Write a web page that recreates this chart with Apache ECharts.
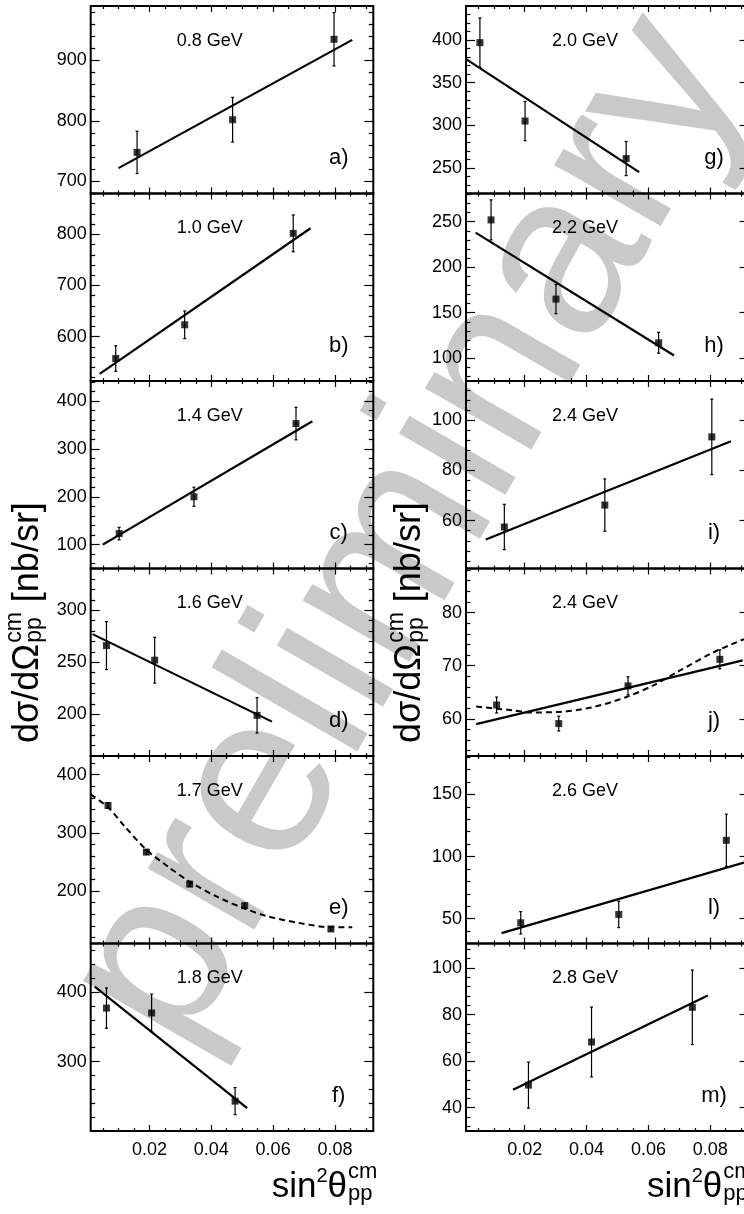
<!DOCTYPE html>
<html>
<head>
<meta charset="utf-8">
<script src="https://cdn.jsdelivr.net/npm/echarts@6/dist/echarts.min.js"></script>
<style>
html, body { margin: 0; padding: 0; background: #fff; }
#main { width: 744px; height: 1214px; }
</style>
</head>
<body>
<div id="main"></div>
<script>
// x axis (sin^2 theta) ticks, shared by all panels
const xMajor = [0.02, 0.04, 0.06, 0.08]

// a) 0.8 GeV  -- points are [x, y, error]
const ptsA = [[0.0160, 748, 35], [0.0469, 802, 37], [0.0797, 935, 44]]
const fitA = [[0.0100, 722], [0.0856, 934]]
const yTicksA = [700, 800, 900]
// b) 1.0 GeV
const ptsB = [[0.0091, 557, 25], [0.0314, 623, 27], [0.0665, 802, 36]]
const fitB = [[0.0039, 527], [0.0721, 812]]
const yTicksB = [600, 700, 800]
// c) 1.4 GeV
const ptsC = [[0.0102, 123, 13], [0.0344, 200, 20], [0.0674, 353, 34]]
const fitC = [[0.0049, 100], [0.0727, 358]]
const yTicksC = [100, 200, 300, 400]
// d) 1.6 GeV
const ptsD = [[0.0061, 266, 23], [0.0217, 252, 22], [0.0548, 199, 17]]
const fitD = [[0.0016, 277], [0.0596, 193]]
const yTicksD = [200, 250, 300]
// e) 1.7 GeV (dashed fit curve)
const ptsE = [[0.0066, 347, 5], [0.0190, 267, 4], [0.0330, 212, 4], [0.0508, 175, 4], [0.0787, 135, 3]]
const curveE = [[0.001, 366], [0.0066, 344], [0.012, 311], [0.019, 271], [0.026, 242], [0.033, 216],
  [0.042, 190], [0.0508, 170], [0.058, 157], [0.0687, 145], [0.0787, 138], [0.0856, 138]]
const yTicksE = [200, 300, 400]
// f) 1.8 GeV
const ptsF = [[0.0061, 377, 29], [0.0207, 370, 27], [0.0477, 243, 19.5]]
const fitF = [[0.0023, 408], [0.0516, 233]]
const yTicksF = [300, 400]
// g) 2.0 GeV
const ptsG = [[0.0055, 397, 29], [0.0201, 305, 23], [0.0528, 261, 20]]
const fitG = [[0.0009, 378], [0.0570, 245]]
const yTicksG = [250, 300, 350, 400]
// h) 2.2 GeV
const ptsH = [[0.0091, 252, 22], [0.0301, 165, 16], [0.0633, 117, 11.5]]
const fitH = [[0.0041, 238], [0.0683, 103]]
const yTicksH = [100, 150, 200, 250]
// i) 2.4 GeV
const ptsI = [[0.0134, 57.5, 9], [0.0459, 66.2, 10.4], [0.0805, 93.3, 15]]
const fitI = [[0.0074, 52.5], [0.0867, 91.6]]
const yTicksI = [60, 80, 100]
// j) 2.4 GeV (solid + dashed fit)
const ptsJ = [[0.0109, 62.6, 1.5], [0.0310, 59.1, 1.4], [0.0534, 66.2, 1.7], [0.0831, 71.2, 1.8]]
const fitJ = [[0.0043, 59.0], [0.0905, 71.0]]
const curveJ = [[0.0043, 62.3], [0.0162, 61.6], [0.0216, 61.2], [0.0313, 61.3], [0.0421, 62.2],
  [0.0529, 64.1], [0.0616, 66.3], [0.0702, 69.1], [0.0810, 72.5], [0.0909, 75.0]]
const yTicksJ = [60, 70, 80]
// l) 2.6 GeV
const ptsL = [[0.0187, 46.7, 9], [0.0504, 53.4, 10.6], [0.0852, 113.1, 21]]
const fitL = [[0.0125, 38.4], [0.0909, 95.1]]
const yTicksL = [50, 100, 150]
// m) 2.8 GeV
const ptsM = [[0.0212, 49.7, 9.9], [0.0416, 68.2, 15], [0.0742, 83.1, 16]]
const fitM = [[0.0162, 47.7], [0.0792, 88.2]]
const yTicksM = [40, 60, 80, 100]

const FONT = '"Liberation Sans", Arial, Helvetica, sans-serif'
const X_MIN = 0.001
const X_MAX = 0.0924

// panel setup (left column a-f, right column g-m)
const panels = [
  { label: '0.8 GeV', tag: 'a)', pts: ptsA, fit: fitA, ticks: yTicksA, min: 680, max: 990, minor: 20 },
  { label: '1.0 GeV', tag: 'b)', pts: ptsB, fit: fitB, ticks: yTicksB, min: 513, max: 880, minor: 20 },
  { label: '1.4 GeV', tag: 'c)', pts: ptsC, fit: fitC, ticks: yTicksC, min: 50, max: 442, minor: 20 },
  { label: '1.6 GeV', tag: 'd)', pts: ptsD, fit: fitD, ticks: yTicksD, min: 160, max: 340, minor: 10 },
  { label: '1.7 GeV', tag: 'e)', pts: ptsE, dash: curveE, ticks: yTicksE, min: 110, max: 432, minor: 20 },
  { label: '1.8 GeV', tag: 'f)', pts: ptsF, fit: fitF, ticks: yTicksF, min: 200, max: 470, minor: 20 },
  { label: '2.0 GeV', tag: 'g)', pts: ptsG, fit: fitG, ticks: yTicksG, min: 220, max: 440, minor: 10 },
  { label: '2.2 GeV', tag: 'h)', pts: ptsH, fit: fitH, ticks: yTicksH, min: 75, max: 281, minor: 10 },
  { label: '2.4 GeV', tag: 'i)', pts: ptsI, fit: fitI, ticks: yTicksI, min: 41, max: 115.5, minor: 4 },
  { label: '2.4 GeV', tag: 'j)', pts: ptsJ, fit: fitJ, dash: curveJ, ticks: yTicksJ, min: 53, max: 88.3, minor: 2 },
  { label: '2.6 GeV', tag: 'l)', pts: ptsL, fit: fitL, ticks: yTicksL, min: 30, max: 181, minor: 10 },
  { label: '2.8 GeV', tag: 'm)', pts: ptsM, fit: fitM, ticks: yTicksM, min: 30, max: 110.5, minor: 4 }
]

const colLeft = [90.7, 466]
const plotW = 282.6
const rowTop = 6
const rowH = 187.5

// tick positions between the labelled ones
function minorVals (min, max, step, majors) {
  const out = []
  for (let k = Math.ceil(min / step - 1e-9); k * step <= max + 1e-9; k++) {
    const v = +(k * step).toFixed(6)
    if (!majors.some(m => Math.abs(m - v) < step * 1e-3)) out.push(v)
  }
  return out
}
const xMinor = minorVals(X_MIN, X_MAX, 0.005, xMajor)

const tickLine = { color: '#000', width: 1.2 }
const labelFont = { fontSize: 18, color: '#000', fontFamily: FONT }

function renderErr (params, api) {
  const x = api.value(0)
  const y = api.value(1)
  const e = api.value(2)
  const hi = api.coord([x, y + e])
  const lo = api.coord([x, y - e])
  const st = { stroke: '#000', lineWidth: 1.2 }
  return {
    type: 'group',
    children: [
      { type: 'line', shape: { x1: hi[0], y1: hi[1], x2: lo[0], y2: lo[1] }, style: st },
      { type: 'line', shape: { x1: hi[0] - 1.5, y1: hi[1], x2: hi[0] + 1.5, y2: hi[1] }, style: st },
      { type: 'line', shape: { x1: lo[0] - 1.5, y1: lo[1], x2: lo[0] + 1.5, y2: lo[1] }, style: st }
    ]
  }
}

// text placed by its baseline
function txt (x, baseY, text, fs, align, z) {
  return {
    type: 'text',
    x: x,
    y: baseY - 0.35 * fs,
    z: z === undefined ? 100 : z,
    silent: true,
    style: {
      text: text, x: 0, y: 0, fill: '#000', fontSize: fs, fontFamily: FONT,
      align: align, verticalAlign: 'middle', textAlign: align, textVerticalAlign: 'middle'
    }
  }
}

const measureCtx = document.createElement('canvas').getContext('2d')
function tw (text, fs) {
  measureCtx.font = fs + 'px ' + FONT
  return measureCtx.measureText(text).width
}

const grids = []
const xAxes = []
const yAxes = []
const series = []
const elements = []

panels.forEach((p, i) => {
  const col = i < 6 ? 0 : 1
  const row = i % 6
  const left = colLeft[col]
  const top = rowTop + row * rowH
  grids.push({
    left: left, top: top, width: plotW, height: rowH,
    show: true, borderColor: '#000', borderWidth: 2, backgroundColor: 'transparent',
    containLabel: false, outerBoundsMode: 'none'
  })
  const bottomRow = row === 5
  const xBase = { gridIndex: i, type: 'value', min: X_MIN, max: X_MAX, axisLine: { show: false, onZero: false }, splitLine: { show: false } }
  ;['bottom', 'top'].forEach(pos => {
    xAxes.push(Object.assign({}, xBase, {
      position: pos,
      axisTick: { inside: true, length: 6, customValues: xMajor, lineStyle: tickLine },
      axisLabel: Object.assign({ show: pos === 'bottom' && bottomRow, customValues: xMajor, margin: 10, formatter: v => v.toFixed(2) }, labelFont)
    }))
    xAxes.push(Object.assign({}, xBase, {
      position: pos,
      axisTick: { inside: true, length: 3, customValues: xMinor, lineStyle: tickLine },
      axisLabel: { show: false }
    }))
  })
  const yMinor = minorVals(p.min, p.max, p.minor, p.ticks)
  const yBase = { gridIndex: i, type: 'value', min: p.min, max: p.max, axisLine: { show: false, onZero: false }, splitLine: { show: false } }
  ;['left', 'right'].forEach(pos => {
    yAxes.push(Object.assign({}, yBase, {
      position: pos,
      axisTick: { inside: true, length: 9, customValues: p.ticks, lineStyle: tickLine },
      axisLabel: Object.assign({ show: pos === 'left', customValues: p.ticks, margin: 4 }, labelFont)
    }))
    yAxes.push(Object.assign({}, yBase, {
      position: pos,
      axisTick: { inside: true, length: 4.5, customValues: yMinor, lineStyle: tickLine },
      axisLabel: { show: false }
    }))
  })

  const ax = { xAxisIndex: 4 * i, yAxisIndex: 4 * i }
  if (p.fit) {
    series.push(Object.assign({
      type: 'line', data: p.fit, symbol: 'none', silent: true, z: 3,
      lineStyle: { color: '#000', width: 2.2 }
    }, ax))
  }
  if (p.dash) {
    series.push(Object.assign({
      type: 'line', data: p.dash, symbol: 'none', smooth: 0.3, silent: true, z: 3,
      lineStyle: { color: '#000', width: 2, type: [6, 4] }
    }, ax))
  }
  series.push(Object.assign({
    type: 'custom', renderItem: renderErr, data: p.pts, encode: { x: 0, y: 1 }, silent: true, z: 4
  }, ax))
  series.push(Object.assign({
    type: 'scatter', data: p.pts.map(q => [q[0], q[1]]), symbol: 'rect', symbolSize: 7,
    itemStyle: { color: '#000' }, silent: true, z: 5
  }, ax))

  elements.push(txt(left + 86, top + 35 + 0.35 * 18, p.label, 18, 'left'))
  elements.push(txt(left + 248, top + 152 + 0.35 * 22, p.tag, 22, 'center'))
})

// "preliminary" watermark
elements.push({
  type: 'text', x: 410, y: 532, rotation: Math.PI / 3, z: -10, silent: true,
  style: {
    text: 'preliminary', x: 0, y: 0, fill: '#c9c9c9', fontSize: 232, fontFamily: FONT,
    align: 'center', verticalAlign: 'middle', textAlign: 'center', textVerticalAlign: 'middle'
  }
})

// x axis titles: sin^2 theta_pp^cm
function xTitle (x0) {
  const base = 1200
  const fs = 35
  const fsS = 22
  let x = x0
  elements.push(txt(x, base, 'sin', fs, 'left'))
  x += tw('sin', fs)
  elements.push(txt(x, base - 17, '2', 20, 'left'))
  x += tw('2', 20)
  elements.push(txt(x, base, 'θ', fs, 'left'))
  x += tw('θ', fs) + 1
  elements.push(txt(x, base - 20, 'cm', fsS, 'left'))
  elements.push(txt(x, base + 2, 'pp', fsS, 'left'))
}
xTitle(271.7)
xTitle(647)

// y axis titles, rotated: dsigma/dOmega_pp^cm [nb/sr]
function yTitle (bx, by) {
  const fs = 36
  const fsS = 23
  const children = []
  const part = (x, off, text, size) => {
    children.push({
      type: 'text', x: x, y: off - 0.35 * size, silent: true,
      style: {
        text: text, x: 0, y: 0, fill: '#000', fontSize: size, fontFamily: FONT,
        align: 'left', verticalAlign: 'middle', textAlign: 'left', textVerticalAlign: 'middle'
      }
    })
  }
  let x = 0
  part(x, 0, 'dσ/dΩ', fs)
  x += tw('dσ/dΩ', fs) + 1
  part(x, -0.5 * fs, 'cm', fsS)
  part(x, 0.06 * fs, 'pp', fsS)
  x += Math.max(tw('cm', fsS), tw('pp', fsS))
  part(x, 0, ' [nb/sr]', fs)
  elements.push({ type: 'group', x: bx, y: by, rotation: Math.PI / 2, z: 100, silent: true, children: children })
}
yTitle(41, 743)
yTitle(422.5, 743)

const chart = echarts.init(document.getElementById('main'), null, { renderer: 'canvas' })
chart.setOption({
  animation: false,
  backgroundColor: '#fff',
  grid: grids,
  xAxis: xAxes,
  yAxis: yAxes,
  series: series,
  graphic: { elements: elements }
})
</script>
</body>
</html>
